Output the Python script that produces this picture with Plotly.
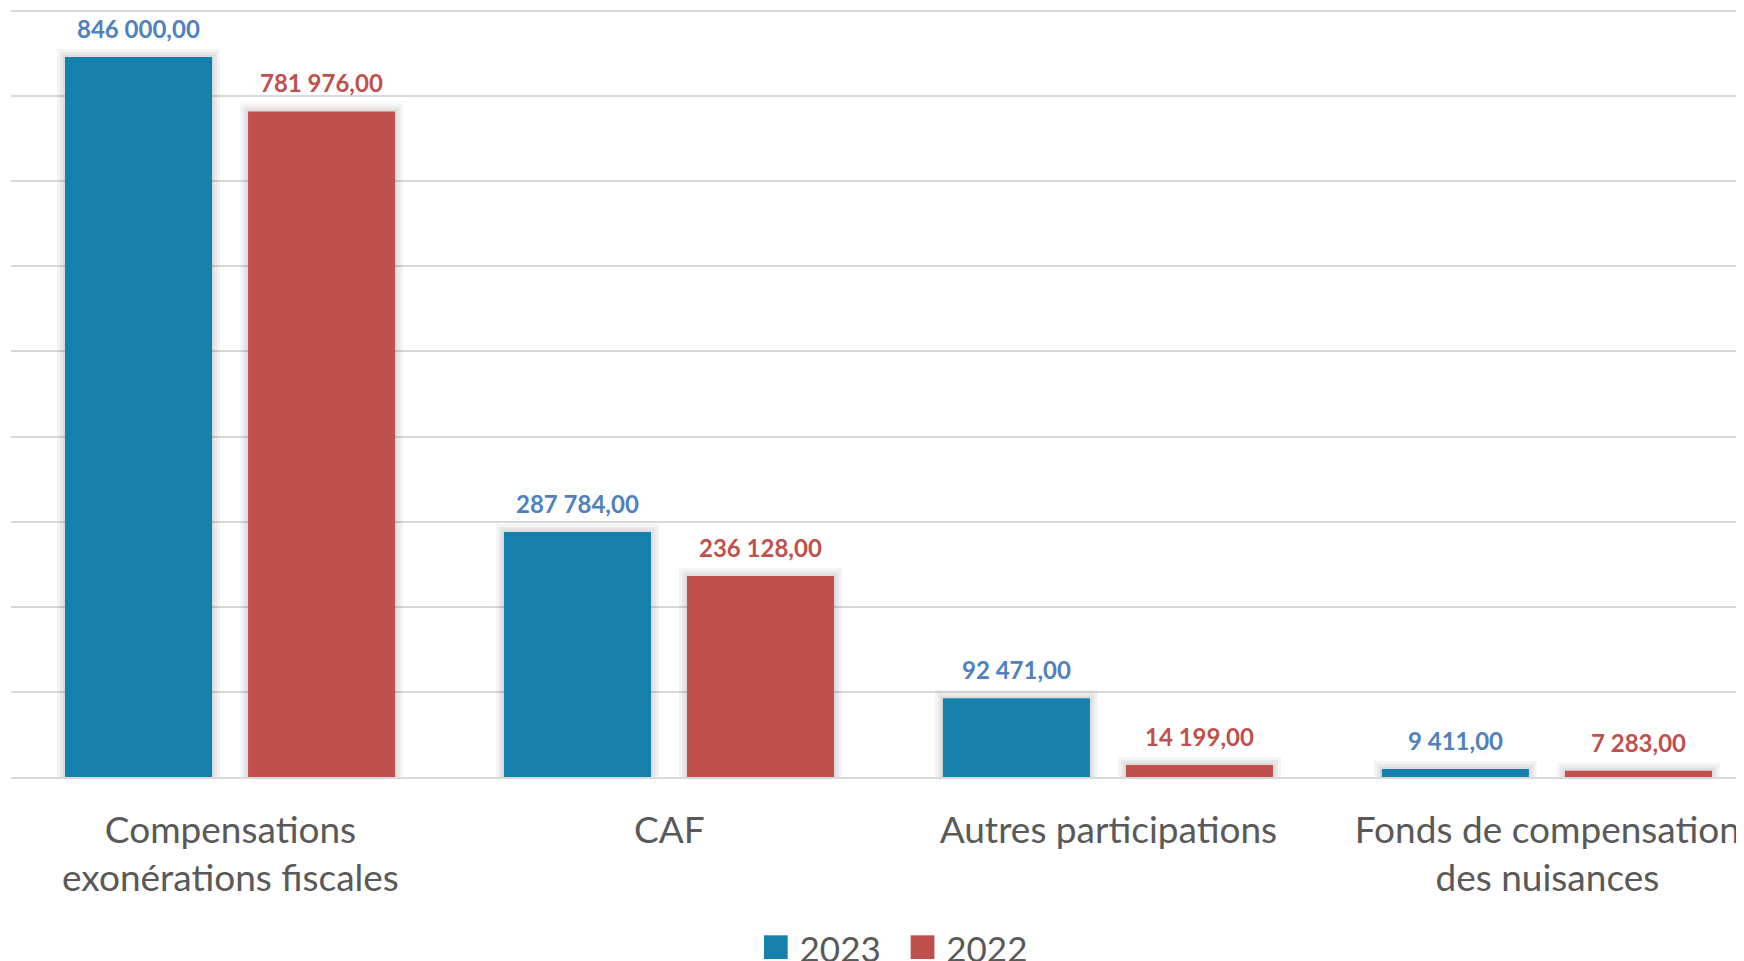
import plotly.graph_objects as go

categories = ["Compensations<br>exonérations fiscales", "CAF", "Autres participations",
              "Fonds de compensation<br>des nuisances"]
values_2023 = [846000, 287784, 92471, 9411]
values_2022 = [781976, 236128, 14199, 7283]
labels_2023 = ["846 000,00", "287 784,00", "92 471,00", "9 411,00"]
labels_2022 = ["781 976,00", "236 128,00", "14 199,00", "7 283,00"]
series_names = ["2023", "2022"]
grid_max = 900000
grid_step = 100000

BLUE_BAR = "#1580AB"
RED_BAR = "#C0504D"
BLUE_TXT = "#4F81BD"
RED_TXT = "#C0504D"
GRID = "#D9D9D9"
FONT = "Lato"

W_BAR = 0.335
OFF_23 = -0.377
OFF_22 = 0.040

# page has an 8px body margin; size figure accordingly
FIG_W, FIG_H = 1736, 953
M_L, M_T, M_B, M_R = 3, 1, 184, 0
PLOT_H = FIG_H - M_T - M_B
GRID_SPAN_PX = 766
y_top = grid_max * PLOT_H / GRID_SPAN_PX

xs = list(range(len(categories)))
fig = go.Figure()

# soft shadow halo behind the bars (same data, transparent fill, faint outlines)
for vals, off in ((values_2023, OFF_23), (values_2022, OFF_22)):
    for lw in (16, 10, 5):
        fig.add_trace(go.Bar(x=xs, y=vals, width=W_BAR, offset=off, showlegend=False,
                             hoverinfo="skip",
                             marker=dict(color="rgba(0,0,0,0)",
                                         line=dict(width=lw, color="rgba(0,0,0,0.045)"))))

fig.add_trace(go.Bar(x=xs, y=values_2023, name=series_names[0],
                     marker=dict(color=BLUE_BAR, line=dict(width=0)),
                     width=W_BAR, offset=OFF_23, showlegend=False))
fig.add_trace(go.Bar(x=xs, y=values_2022, name=series_names[1],
                     marker=dict(color=RED_BAR, line=dict(width=0)),
                     width=W_BAR, offset=OFF_22, showlegend=False))

annotations = []
for i, (v, t) in enumerate(zip(values_2023, labels_2023)):
    annotations.append(dict(x=i + OFF_23 + W_BAR / 2, y=v, xref="x", yref="y", text=f"<b>{t}</b>",
                            showarrow=False, yanchor="bottom", yshift=12,
                            font=dict(family=FONT, size=24, color=BLUE_TXT)))
for i, (v, t) in enumerate(zip(values_2022, labels_2022)):
    annotations.append(dict(x=i + OFF_22 + W_BAR / 2, y=v, xref="x", yref="y", text=f"<b>{t}</b>",
                            showarrow=False, yanchor="bottom", yshift=12,
                            font=dict(family=FONT, size=24, color=RED_TXT)))

annotations.append(dict(
    x=0.5095, y=-0.176, xref="paper", yref="paper", xanchor="center", yanchor="top",
    showarrow=False,
    text=(f'<span style="color:{BLUE_BAR};font-size:49px">■</span>&nbsp;{series_names[0]}'
          f'&nbsp;&nbsp;&nbsp;<span style="color:{RED_BAR};font-size:49px">■</span>&nbsp;{series_names[1]}'),
    font=dict(family=FONT, size=35, color="#595959")))

fig.update_layout(
    width=FIG_W, height=FIG_H,
    margin=dict(l=M_L, r=M_R, t=M_T, b=M_B, autoexpand=False),
    paper_bgcolor="white", plot_bgcolor="white",
    showlegend=False, barmode="overlay",
    annotations=annotations,
    xaxis=dict(tickmode="array", tickvals=xs, ticktext=categories,
               range=[-0.5, 3.448], showgrid=False, zeroline=False,
               showline=True, linecolor=GRID, linewidth=1.5, ticks="",
               tickfont=dict(family=FONT, size=37, color="#595959"),
               ticklabeloverflow="allow", ticklabelstandoff=20),
    yaxis=dict(range=[0, y_top], tick0=0, dtick=grid_step, showticklabels=False,
               showgrid=True, gridcolor=GRID, gridwidth=1.5, zeroline=False, ticks=""),
)

fig.write_html("out.html")
